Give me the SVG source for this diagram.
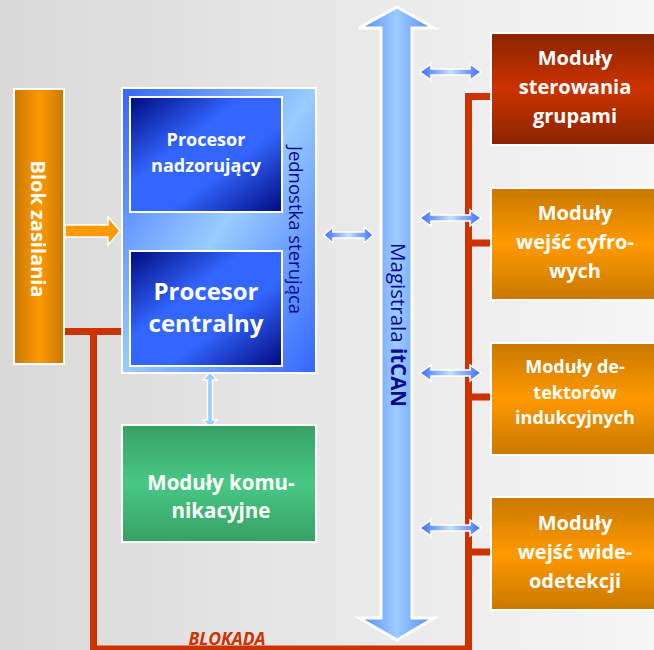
<svg xmlns="http://www.w3.org/2000/svg" width="654" height="650" viewBox="0 0 654 650">
<defs>
<linearGradient id="bg" x1="0" y1="0" x2="1" y2="0"><stop offset="0" stop-color="#d9d9d9"/><stop offset="1" stop-color="#f6f6f6"/></linearGradient>
<linearGradient id="orangeH" x1="0" y1="0" x2="1" y2="0"><stop offset="0" stop-color="#c87800"/><stop offset="0.5" stop-color="#ff9900"/><stop offset="1" stop-color="#c87800"/></linearGradient>
<linearGradient id="orangeV" x1="0" y1="0" x2="0" y2="1"><stop offset="0" stop-color="#c87800"/><stop offset="0.5" stop-color="#ff9900"/><stop offset="1" stop-color="#c87800"/></linearGradient>
<linearGradient id="redV" x1="0" y1="0" x2="0" y2="1"><stop offset="0" stop-color="#8a2400"/><stop offset="0.5" stop-color="#cc3300"/><stop offset="1" stop-color="#8a2400"/></linearGradient>
<linearGradient id="greenV" x1="0" y1="0" x2="0" y2="1"><stop offset="0" stop-color="#37a066"/><stop offset="0.5" stop-color="#48c884"/><stop offset="1" stop-color="#37a066"/></linearGradient>
<linearGradient id="unit" x1="0" y1="0" x2="1" y2="1"><stop offset="0" stop-color="#3366ff"/><stop offset="0.5" stop-color="#99ccff"/><stop offset="1" stop-color="#3366ff"/></linearGradient>
<linearGradient id="proc" x1="0" y1="0" x2="1" y2="1"><stop offset="0" stop-color="#000a80"/><stop offset="0.38" stop-color="#3366ff"/><stop offset="0.62" stop-color="#3366ff"/><stop offset="1" stop-color="#000a80"/></linearGradient>
<linearGradient id="busG" x1="0" y1="0" x2="1" y2="0"><stop offset="0" stop-color="#5588ff"/><stop offset="0.5" stop-color="#9cccff"/><stop offset="1" stop-color="#5588ff"/></linearGradient>
<linearGradient id="arrH" x1="0" y1="0" x2="1" y2="0"><stop offset="0" stop-color="#3d6eff"/><stop offset="0.5" stop-color="#c4e0ff"/><stop offset="1" stop-color="#3d6eff"/></linearGradient>
<linearGradient id="arrV" x1="0" y1="0" x2="1" y2="0"><stop offset="0" stop-color="#1030c0"/><stop offset="0.5" stop-color="#3a60ee"/><stop offset="1" stop-color="#1030c0"/></linearGradient>
<path id="harr" d="M0,0 L11,-8 L11,-3 L50,-3 L50,-8 L61,0 L50,8 L50,3 L11,3 L11,8 Z"/>
</defs>
<style>
.box{stroke:#fff;stroke-width:2}
.t{font-family:"Open Sans","Liberation Sans",sans-serif;fill:#fff;font-weight:bold;text-anchor:middle}
.v{font-family:"Open Sans","Liberation Sans",sans-serif;fill:#0a0a8c;text-anchor:middle}
.red{stroke:#cc3300;stroke-width:7;fill:none}
.ha{fill:url(#arrH);stroke:#fff;stroke-width:1.5}
</style>
<rect width="654" height="650" fill="url(#bg)"/>

<g id="connectors">
<path class="red" d="M63,331.5 H122 M93.5,331.5 V649 H468.5 V96.5 H491 M468.5,243 H491 M468.5,397 H491 M468.5,552 H491"/>
<path d="M65,225 H108 V217 L120,231 L108,245 V237 H65 Z" fill="#ff9900" stroke="#fff" stroke-width="1.5"/>
<path d="M201,213 L210,221 H204.5 V242 H210 L201,250 L192,242 H197.5 V221 H192 Z" fill="url(#arrV)" stroke="#fff" stroke-width="1.5"/>
<path d="M210,372 L217,380 H212.5 V420 H217 L210,428 L203,420 H207.5 V380 H203 Z" fill="#99ccff" stroke="#fff" stroke-width="1.5"/>
<g transform="translate(324,235) scale(0.803,1)"><use href="#harr" class="ha"/></g>
<use href="#harr" class="ha" x="420" y="72"/>
<use href="#harr" class="ha" x="420" y="218"/>
<use href="#harr" class="ha" x="420" y="373"/>
<use href="#harr" class="ha" x="420" y="528"/>
<text x="227" y="645" font-family="'Open Sans','Liberation Sans',sans-serif" font-weight="bold" font-style="italic" font-size="17.5" fill="#cc3300" text-anchor="middle">BLOKADA</text>
</g>

<g id="magistrala">
<path d="M397,7 L434,28 H412 V618 H434 L397,640 L359,618 H381 V28 H359 Z" fill="url(#busG)" stroke="#fff" stroke-width="3"/>
<text class="v" font-size="20.5" transform="translate(391,325) rotate(90)">Magistrala <tspan font-weight="bold">itCAN</tspan></text>
</g>

<g id="blok-zasilania">
<rect class="box" x="14" y="89" width="50" height="275" fill="url(#orangeH)"/>
<text class="t" font-size="20" transform="translate(31,229) rotate(90)">Blok zasilania</text>
</g>

<g id="jednostka-sterujaca">
<rect class="box" x="122" y="88" width="194" height="285" fill="url(#unit)"/>
<text class="v" font-size="18.5" transform="translate(289,230) rotate(90)">Jednostka sterująca</text>
</g>

<g id="procesor-nadzorujacy">
<rect class="box" x="130" y="97" width="152" height="115" fill="url(#proc)"/>
<text class="t" font-size="18"><tspan x="206" y="146">Procesor</tspan><tspan x="206" y="172">nadzorujący</tspan></text>
</g>

<g id="procesor-centralny">
<rect class="box" x="130" y="251" width="152" height="115" fill="url(#proc)"/>
<text class="t" font-size="24"><tspan x="206" y="300">Procesor</tspan><tspan x="206" y="332">centralny</tspan></text>
</g>

<g id="moduly-komunikacyjne">
<rect class="box" x="122" y="425" width="194" height="117" fill="url(#greenV)"/>
<text class="t" font-size="20.5"><tspan x="221" y="490">Moduły komu-</tspan><tspan x="221" y="518">nikacyjne</tspan></text>
</g>

<g id="moduly-sterowania">
<rect class="box" x="491" y="33" width="170" height="112" fill="url(#redV)"/>
<text class="t" font-size="20"><tspan x="575" y="65">Moduły</tspan><tspan x="575" y="94">sterowania</tspan><tspan x="575" y="123">grupami</tspan></text>
</g>

<g id="moduly-cyfrowych">
<rect class="box" x="491" y="188" width="170" height="112" fill="url(#orangeV)"/>
<text class="t" font-size="20"><tspan x="575" y="220">Moduły</tspan><tspan x="575" y="249">wejść cyfro-</tspan><tspan x="575" y="278">wych</tspan></text>
</g>

<g id="moduly-detektorow">
<rect class="box" x="491" y="343" width="170" height="112" fill="url(#orangeV)"/>
<text class="t" font-size="18"><tspan x="575" y="373">Moduły de-</tspan><tspan x="575" y="398.5">tektorów</tspan><tspan x="575" y="424">indukcyjnych</tspan></text>
</g>

<g id="moduly-wideodetekcji">
<rect class="box" x="491" y="497" width="170" height="113" fill="url(#orangeV)"/>
<text class="t" font-size="20"><tspan x="575" y="530">Moduły</tspan><tspan x="575" y="559">wejść wide-</tspan><tspan x="575" y="588">odetekcji</tspan></text>
</g>
</svg>
